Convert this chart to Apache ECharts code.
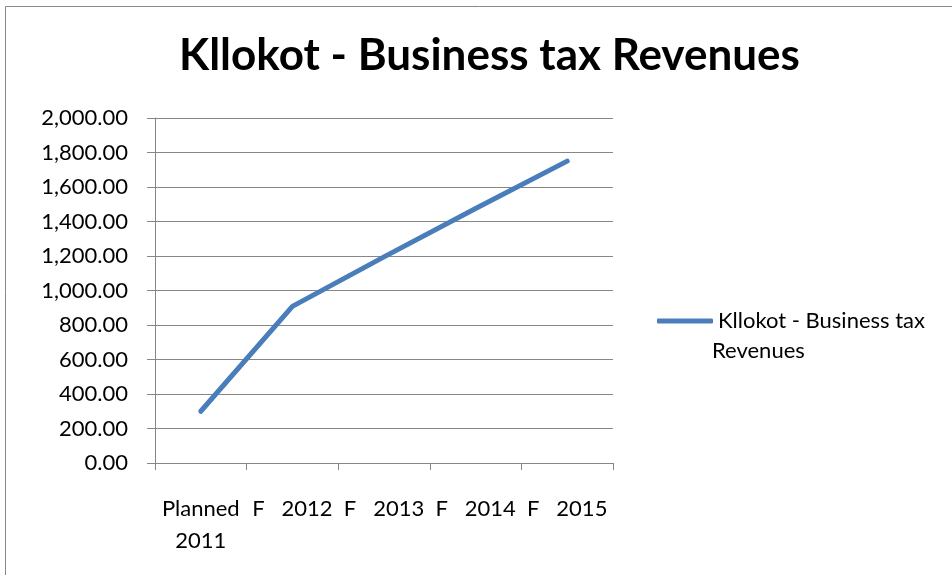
<!DOCTYPE html>
<html>
<head>
<meta charset="utf-8">
<script src="https://cdn.jsdelivr.net/npm/echarts@6/dist/echarts.min.js"></script>
<style>
  html, body { margin: 0; padding: 0; background: #fff; }
  #chart { width: 952px; height: 575px; }
</style>
</head>
<body>
<div id="chart"></div>
<script>
// Business tax revenues for Kllokot, planned and forecast years
const categories = ['Planned\n2011', 'F   2012', 'F   2013', 'F   2014', 'F   2015'];
const revenues = [300, 908, 1195, 1475, 1750];
const seriesName = 'Kllokot - Business tax Revenues';
const chartTitle = 'Kllokot - Business tax Revenues';
const legendLines = ['Kllokot - Business tax', 'Revenues'];

const FONT = 'Lato';
const GRID_COLOR = '#868686';
const LINE_COLOR = '#4a7ebb';

function formatAmount(v) {
  return Number(v).toLocaleString('en-US', { minimumFractionDigits: 2, maximumFractionDigits: 2 });
}

const chart = echarts.init(document.getElementById('chart'), null, { renderer: 'canvas' });
chart.setOption({
  backgroundColor: '#ffffff',
  animation: false,
  textStyle: { fontFamily: FONT },
  title: {
    text: chartTitle,
    left: 174,
    top: 29,
    textStyle: { fontFamily: FONT, fontWeight: 'bold', fontSize: 44, color: '#000' }
  },
  graphic: [
    {
      type: 'rect',
      shape: { x: 5.5, y: 6.5, width: 960, height: 600 },
      style: { fill: null, stroke: '#888888', lineWidth: 1 },
      silent: true
    },
    {
      // wrapped second line of the legend entry
      type: 'text',
      left: 712,
      top: 340,
      style: { text: legendLines[1], fontFamily: FONT, fontSize: 22, fill: '#000' },
      silent: true
    }
  ],
  legend: {
    orient: 'vertical',
    left: 652,
    top: 305,
    icon: 'roundRect',
    itemWidth: 56,
    itemHeight: 5,
    formatter: () => legendLines[0],
    textStyle: { fontFamily: FONT, fontSize: 22, color: '#000' }
  },
  grid: { left: 155, right: 339, top: 118, bottom: 112, containLabel: false },
  xAxis: {
    type: 'category',
    data: categories,
    boundaryGap: true,
    axisLine: { lineStyle: { color: GRID_COLOR, width: 1 } },
    axisTick: { show: true, length: 7, lineStyle: { color: GRID_COLOR } },
    axisLabel: { color: '#000', fontFamily: FONT, fontSize: 22, lineHeight: 32, margin: 30, interval: 0 }
  },
  yAxis: {
    type: 'value',
    min: 0,
    max: 2000,
    interval: 200,
    axisLine: { show: true, lineStyle: { color: GRID_COLOR, width: 1 } },
    axisTick: { show: true, length: 8, lineStyle: { color: GRID_COLOR } },
    splitLine: { lineStyle: { color: GRID_COLOR, width: 1 } },
    axisLabel: { color: '#000', fontFamily: FONT, fontSize: 22, margin: 27, formatter: formatAmount }
  },
  series: [{
    name: seriesName,
    type: 'line',
    data: revenues,
    showSymbol: false,
    symbol: 'none',
    lineStyle: { color: LINE_COLOR, width: 5, cap: 'round', join: 'round' },
    itemStyle: { color: LINE_COLOR }
  }]
});
</script>
</body>
</html>
